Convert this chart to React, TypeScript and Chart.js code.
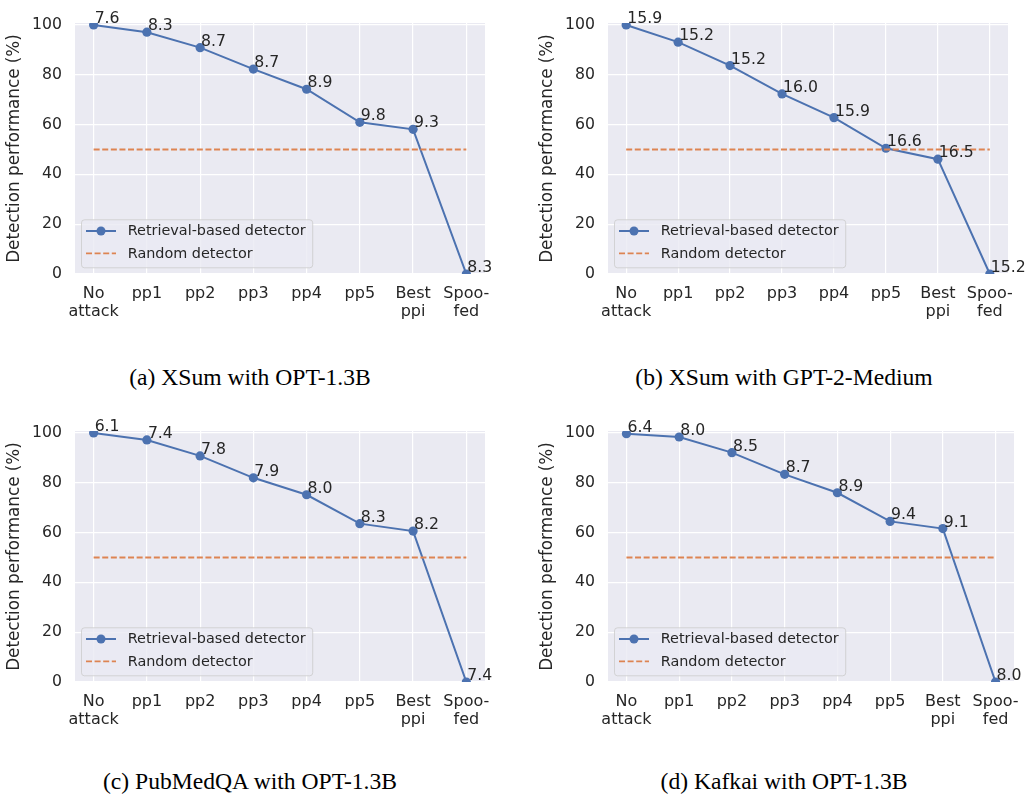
import React, { useEffect, useRef } from "react";
import { Chart, registerables } from "chart.js";

Chart.register(...registerables);

// ---------- data ----------
const CATEGORIES: (string | string[])[] = [
  ["No", "attack"],
  "pp1",
  "pp2",
  "pp3",
  "pp4",
  "pp5",
  ["Best", "ppi"],
  ["Spoo-", "fed"],
];
const Y_TICKS = [0, 20, 40, 60, 80, 100];
const RANDOM_LEVEL = 50;
const SERIES_NAMES = ["Retrieval-based detector", "Random detector"];
const Y_TITLE = "Detection performance (%)";

const XSUM_OPT_VALUES = [100, 97.1, 90.9, 82.3, 74.2, 60.9, 58.1, 0];
const XSUM_OPT_LABELS = ["7.6", "8.3", "8.7", "8.7", "8.9", "9.8", "9.3", "8.3"];

const XSUM_GPT_VALUES = [100, 93.1, 83.7, 72.3, 62.8, 50.5, 46.1, 0];
const XSUM_GPT_LABELS = ["15.9", "15.2", "15.2", "16.0", "15.9", "16.6", "16.5", "15.2"];

const PUBMED_OPT_VALUES = [100, 97.2, 90.8, 82.0, 75.2, 63.6, 60.6, 0];
const PUBMED_OPT_LABELS = ["6.1", "7.4", "7.8", "7.9", "8.0", "8.3", "8.2", "7.4"];

const KAFKAI_OPT_VALUES = [99.7, 98.4, 92.1, 83.4, 76.0, 64.5, 61.6, 0];
const KAFKAI_OPT_LABELS = ["6.4", "8.0", "8.5", "8.7", "8.9", "9.4", "9.1", "8.0"];

const CAPTIONS = [
  "(a) XSum with OPT-1.3B",
  "(b) XSum with GPT-2-Medium",
  "(c) PubMedQA with OPT-1.3B",
  "(d) Kafkai with OPT-1.3B",
];

// ---------- style ----------
const BLUE = "#4C72B0";
const ORANGE = "#DD8452";
const BG = "#EAEAF2";
const TEXT = "#262626";
const FONT = "DejaVu Sans";
const DASH = [6, 2.6];

type PanelCfg = {
  values: number[];
  labels: string[];
  caption: string;
  left: number;
  top: number;
  width: number;
  height: number;
  rightPad: number;
  captionX: number;
  captionTop: number;
};

const PANELS: PanelCfg[] = [
  { values: XSUM_OPT_VALUES, labels: XSUM_OPT_LABELS, caption: CAPTIONS[0], left: 0, top: 0, width: 500, height: 340, rightPad: 15, captionX: 250, captionTop: 366.2 },
  { values: XSUM_GPT_VALUES, labels: XSUM_GPT_LABELS, caption: CAPTIONS[1], left: 533, top: 0, width: 496, height: 340, rightPad: 21, captionX: 784, captionTop: 366.2 },
  { values: PUBMED_OPT_VALUES, labels: PUBMED_OPT_LABELS, caption: CAPTIONS[2], left: 0, top: 408, width: 500, height: 340, rightPad: 15, captionX: 250, captionTop: 770.2 },
  { values: KAFKAI_OPT_VALUES, labels: KAFKAI_OPT_LABELS, caption: CAPTIONS[3], left: 533, top: 408, width: 496, height: 340, rightPad: 10, captionX: 784, captionTop: 770.2 },
];

const bgPlugin = {
  id: "bgPlugin",
  beforeDraw(chart: any) {
    const { left, top, width, height } = chart.chartArea;
    const ctx = chart.ctx;
    ctx.save();
    ctx.fillStyle = BG;
    ctx.fillRect(left, top, width, height);
    ctx.restore();
  },
};

function makeLabelPlugin(labels: string[]) {
  return {
    id: "pointLabels",
    afterDatasetsDraw(chart: any) {
      const meta = chart.getDatasetMeta(0);
      const ctx = chart.ctx;
      ctx.save();
      ctx.font = `15.7px "${FONT}"`;
      ctx.fillStyle = TEXT;
      ctx.textAlign = "left";
      ctx.textBaseline = "alphabetic";
      meta.data.forEach((pt: any, i: number) => {
        ctx.fillText(labels[i], pt.x + 1, pt.y - 2);
      });
      ctx.restore();
    },
  };
}

const legendPlugin = {
  id: "innerLegend",
  afterDraw(chart: any) {
    const { left, bottom } = chart.chartArea;
    const ctx = chart.ctx;
    ctx.save();
    ctx.font = `14.4px "${FONT}"`;
    const textX = left + 52.7;
    const maxW = Math.max(...SERIES_NAMES.map((s) => ctx.measureText(s).width));
    const bx = left + 6;
    const bh = 48;
    const by = bottom - 6.7 - bh;
    const bw = textX + maxW + 6.6 - bx;
    ctx.beginPath();
    (ctx as any).roundRect(bx + 0.5, by + 0.5, bw, bh, 3);
    ctx.fillStyle = "rgba(234,234,242,0.8)";
    ctx.fill();
    ctx.strokeStyle = "rgba(204,204,204,0.8)";
    ctx.lineWidth = 1;
    ctx.stroke();

    const y1 = by + 11.7;
    const y2 = by + 34;
    // retrieval handle
    ctx.strokeStyle = BLUE;
    ctx.lineWidth = 2;
    ctx.setLineDash([]);
    ctx.beginPath();
    ctx.moveTo(left + 11, y1);
    ctx.lineTo(left + 41, y1);
    ctx.stroke();
    ctx.fillStyle = BLUE;
    ctx.beginPath();
    ctx.arc(left + 26, y1, 4.5, 0, Math.PI * 2);
    ctx.fill();
    // random handle
    ctx.strokeStyle = ORANGE;
    ctx.lineWidth = 1.8;
    ctx.setLineDash(DASH);
    ctx.beginPath();
    ctx.moveTo(left + 11, y2);
    ctx.lineTo(left + 41, y2);
    ctx.stroke();
    ctx.setLineDash([]);

    ctx.fillStyle = TEXT;
    ctx.textAlign = "left";
    ctx.textBaseline = "middle";
    ctx.fillText(SERIES_NAMES[0], textX, y1 + 0.5);
    ctx.fillText(SERIES_NAMES[1], textX, y2 + 0.5);
    ctx.restore();
  },
};

function Panel({ cfg }: { cfg: PanelCfg }) {
  const ref = useRef<HTMLCanvasElement | null>(null);
  useEffect(() => {
    if (!ref.current) return;
    const chart = new Chart(ref.current, {
      type: "line",
      data: {
        datasets: [
          {
            label: SERIES_NAMES[0],
            data: cfg.values.map((v, i) => ({ x: i, y: v })),
            borderColor: BLUE,
            backgroundColor: BLUE,
            borderWidth: 2,
            pointRadius: 4.6,
            pointBorderWidth: 0,
            pointHoverRadius: 4.6,
            tension: 0,
            clip: 0,
            order: 1,
          } as any,
          {
            label: SERIES_NAMES[1],
            data: [
              { x: 0, y: RANDOM_LEVEL },
              { x: CATEGORIES.length - 1, y: RANDOM_LEVEL },
            ],
            borderColor: ORANGE,
            backgroundColor: ORANGE,
            borderDash: DASH,
            borderWidth: 1.8,
            pointRadius: 0,
            tension: 0,
            clip: 0,
            order: 0,
          } as any,
        ],
      },
      options: {
        responsive: false,
        animation: false,
        events: [],
        devicePixelRatio: 1,
        layout: { padding: { top: 23, right: cfg.rightPad, left: 0, bottom: 0 } },
        plugins: { legend: { display: false }, tooltip: { enabled: false } },
        scales: {
          x: {
            type: "linear",
            min: -0.35,
            max: 7.35,
            afterBuildTicks: (s: any) => {
              s.ticks = CATEGORIES.map((_, i) => ({ value: i }));
            },
            afterFit: (s: any) => {
              s.height = 66;
            },
            grid: { color: "#ffffff", lineWidth: 1.2, drawTicks: false },
            border: { display: false },
            ticks: {
              autoSkip: false,
              maxRotation: 0,
              minRotation: 0,
              padding: 10,
              color: TEXT,
              font: { family: FONT, size: 16, lineHeight: 1.17 },
              callback: (v: any) => CATEGORIES[Math.round(Number(v))] as any,
            },
          },
          y: {
            type: "linear",
            min: 0,
            max: 100.8,
            afterBuildTicks: (s: any) => {
              s.ticks = Y_TICKS.map((v) => ({ value: v }));
            },
            afterFit: (s: any) => {
              s.width = 75;
            },
            grid: { color: "#ffffff", lineWidth: 1.2, drawTicks: false },
            border: { display: false },
            ticks: {
              padding: 13,
              color: TEXT,
              font: { family: FONT, size: 15.7 },
              callback: (v: any) => String(v),
            },
            title: {
              display: true,
              text: Y_TITLE,
              color: TEXT,
              font: { family: FONT, size: 16.8 },
              padding: { top: 5, bottom: 0 },
            },
          },
        },
      } as any,
      plugins: [bgPlugin, makeLabelPlugin(cfg.labels), legendPlugin],
    });
    return () => chart.destroy();
  }, [cfg]);

  return (
    <>
      <canvas
        ref={ref}
        width={cfg.width}
        height={cfg.height}
        style={{ position: "absolute", left: cfg.left, top: cfg.top, width: cfg.width, height: cfg.height }}
      />
      <div
        style={{
          position: "absolute",
          left: cfg.captionX - 250,
          top: cfg.captionTop,
          width: 500,
          textAlign: "center",
          fontFamily: '"Liberation Serif", "Times New Roman", serif',
          fontSize: 23.6,
          lineHeight: "23.6px",
          color: "#000",
          whiteSpace: "nowrap",
        }}
      >
        {cfg.caption}
      </div>
    </>
  );
}

export default function App() {
  return (
    <div
      style={{
        position: "fixed",
        left: 0,
        top: 0,
        width: 1029,
        height: 799,
        background: "#ffffff",
        overflow: "hidden",
      }}
    >
      {PANELS.map((p, i) => (
        <Panel key={i} cfg={p} />
      ))}
    </div>
  );
}
